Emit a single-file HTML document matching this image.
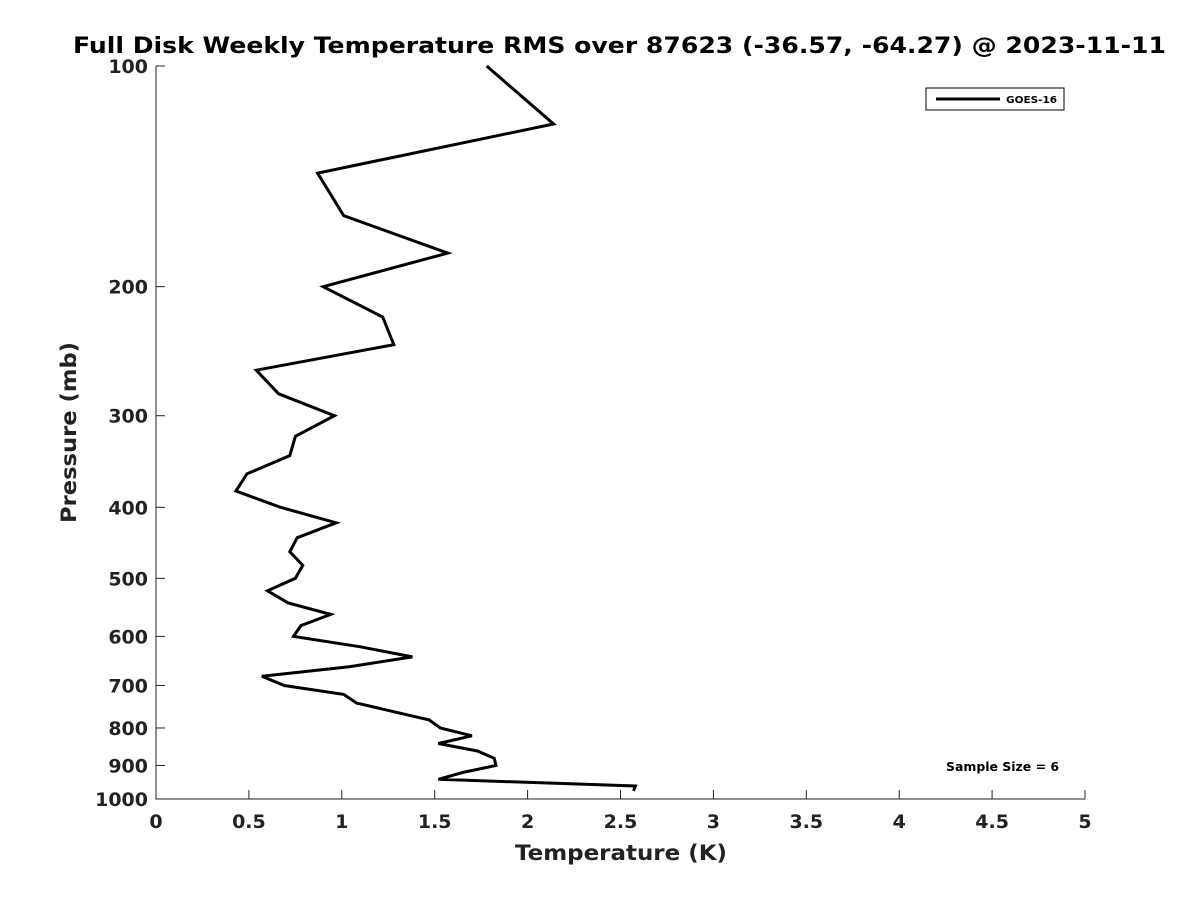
<!DOCTYPE html>
<html><head><meta charset="utf-8"><style>
body{margin:0;background:#fff;}
svg text{font-family:"DejaVu Sans","Liberation Sans",sans-serif;font-weight:bold;fill:#222;}
</style></head><body>
<svg id="chart" width="1200" height="900" xmlns="http://www.w3.org/2000/svg">
<rect width="1200" height="900" fill="#fff"/>
<text x="73" y="53" font-size="22" textLength="1093" lengthAdjust="spacingAndGlyphs" style="fill:#000">Full Disk Weekly Temperature RMS over 87623 (-36.57, -64.27) @ 2023-11-11</text>
<g id="axes"></g>
<path id="series" fill="none" stroke="#000" stroke-width="3" stroke-linejoin="miter"/>
<g>
<rect x="926" y="88" width="138" height="22" fill="#fff" stroke="#000" stroke-width="1"/>
<line x1="936" y1="99" x2="1000" y2="99" stroke="#000" stroke-width="3"/>
<text x="1006" y="103" font-size="10" textLength="51" lengthAdjust="spacingAndGlyphs" style="fill:#000">GOES-16</text>
</g>
<text x="946" y="771" font-size="12" textLength="113" lengthAdjust="spacingAndGlyphs" style="fill:#000">Sample Size = 6</text>
<text x="515" y="860" font-size="21" textLength="212" lengthAdjust="spacingAndGlyphs">Temperature (K)</text>
<text transform="translate(76,523) rotate(-90)" font-size="21" textLength="181" lengthAdjust="spacingAndGlyphs">Pressure (mb)</text>
</svg>
<script>
const temps=[1.78,2.14,0.87,1.01,1.57,0.90,1.22,1.28,0.54,0.66,0.96,0.75,0.72,0.49,0.43,0.67,0.97,0.76,0.72,0.79,0.75,0.60,0.71,0.94,0.78,0.74,1.10,1.38,1.04,0.57,0.69,1.01,1.08,1.47,1.53,1.70,1.52,1.73,1.82,1.83,1.65,1.52,2.58,2.57];
const pressures=[100,120,140,160,180,200,220,240,260,280,300,320,340,360,380,400,420,440,460,480,500,520,540,560,580,600,620,640,660,680,700,720,740,780,800,820,840,860,880,900,920,940,960,975];
const xTicks=[0,0.5,1,1.5,2,2.5,3,3.5,4,4.5,5];
const yTicks=[100,200,300,400,500,600,700,800,900,1000];
const X0=156,X1=1085,Y0=66,Y1=799;
const xs=v=>X0+(v-0)/(5-0)*(X1-X0);
const ys=p=>Y0+(Math.log10(p)-2)*(Y1-Y0);
const ns="http://www.w3.org/2000/svg";
const axes=document.getElementById('axes');
function mk(t,a){const e=document.createElementNS(ns,t);for(const k in a)e.setAttribute(k,a[k]);axes.appendChild(e);return e;}
let ax=mk('path',{d:`M${X0},${Y0}V${Y1}H${X1}`,fill:'none',stroke:'#222','stroke-width':1});


xTicks.forEach(t=>{const x=xs(t);
 const l=mk('line',{x1:x,x2:x,y1:Y1,y2:Y1-9,stroke:'#222'});
 
 
 const tx=mk('text',{x:x,y:Y1+29,'text-anchor':'middle','font-size':19});tx.textContent=t;
 
 });
yTicks.forEach(t=>{const y=ys(t);
 const l=mk('line',{x1:X0,x2:X0+9,y1:y,y2:y,stroke:'#222'});
 
 
 const tx=mk('text',{x:X0-8,y:y+7,'text-anchor':'end','font-size':19});tx.textContent=t;
 
 });
document.getElementById('series').setAttribute('d',temps.map((t,i)=>(i?'L':'M')+xs(t).toFixed(1)+','+ys(pressures[i]).toFixed(1)).join(''));
</script>
</body></html>
